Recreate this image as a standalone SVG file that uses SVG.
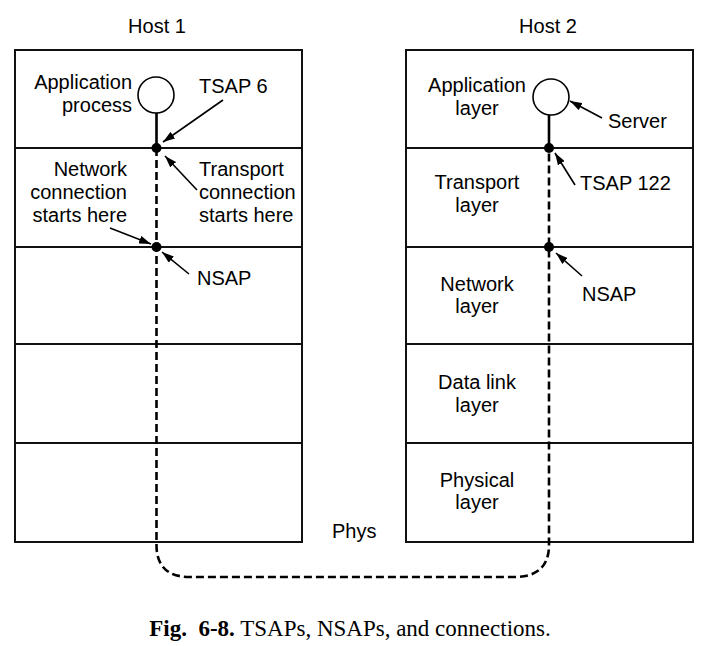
<svg xmlns="http://www.w3.org/2000/svg" width="716" height="646" viewBox="0 0 716 646">
<defs>
<style>
.t{font-family:"Liberation Sans",Arial,sans-serif;font-size:20px;fill:#000}
.box{fill:#fff;stroke:#111;stroke-width:2}
.sep{stroke:#111;stroke-width:2}
.arr{stroke:#000;stroke-width:1.6;fill:none;marker-end:url(#ah)}
.dash{stroke:#000;stroke-width:2.6;fill:none;stroke-dasharray:8 4}
.solid{stroke:#000;stroke-width:2.6}
.cap{font-family:"Liberation Serif","Times New Roman",serif;font-size:23px;fill:#000}
</style>
<marker id="ah" viewBox="0 0 12 8" refX="12" refY="4" markerWidth="12" markerHeight="8" markerUnits="userSpaceOnUse" orient="auto">
<path d="M0,0 L12,4 L0,8 z" fill="#000"/>
</marker>
</defs>
<rect width="716" height="646" fill="#fff"/>

<g id="host1">
<text class="t" x="157" y="33" text-anchor="middle">Host 1</text>
<rect class="box" x="15" y="50" width="287" height="492"/>
<line class="sep" x1="15" y1="148" x2="302" y2="148"/>
<line class="sep" x1="15" y1="247" x2="302" y2="247"/>
<line class="sep" x1="15" y1="344" x2="302" y2="344"/>
<line class="sep" x1="15" y1="443" x2="302" y2="443"/>
</g>

<g id="host2">
<text class="t" x="548" y="33" text-anchor="middle">Host 2</text>
<rect class="box" x="406" y="50" width="287" height="492"/>
<line class="sep" x1="406" y1="148" x2="693" y2="148"/>
<line class="sep" x1="406" y1="247" x2="693" y2="247"/>
<line class="sep" x1="406" y1="344" x2="693" y2="344"/>
<line class="sep" x1="406" y1="443" x2="693" y2="443"/>
<text class="t" x="477" y="92" text-anchor="middle">Application</text>
<text class="t" x="477" y="115" text-anchor="middle">layer</text>
<text class="t" x="477" y="189" text-anchor="middle">Transport</text>
<text class="t" x="477" y="212" text-anchor="middle">layer</text>
<text class="t" x="477" y="291" text-anchor="middle">Network</text>
<text class="t" x="477" y="313" text-anchor="middle">layer</text>
<text class="t" x="477" y="389" text-anchor="middle">Data link</text>
<text class="t" x="477" y="412" text-anchor="middle">layer</text>
<text class="t" x="477" y="487" text-anchor="middle">Physical</text>
<text class="t" x="477" y="509" text-anchor="middle">layer</text>
</g>

<g id="connectors">
<path class="dash" d="M156.5,148 V545 Q156.5,577 190,577 H514 Q549,577 549,545 V148"/>
<line class="solid" x1="156.5" y1="113" x2="156.5" y2="148"/>
<line class="solid" x1="549" y1="115" x2="549" y2="148"/>
<line class="arr" x1="223" y1="100" x2="163" y2="142"/>
<line class="arr" x1="197" y1="190" x2="165" y2="156"/>
<line class="arr" x1="110" y1="228" x2="151" y2="244"/>
<line class="arr" x1="189" y1="274" x2="162" y2="252"/>
<line class="arr" x1="602" y1="118" x2="570" y2="101"/>
<line class="arr" x1="575" y1="185" x2="555" y2="153"/>
<line class="arr" x1="582" y1="276" x2="556" y2="253"/>
</g>

<g id="app-process">
<circle cx="156" cy="95" r="18" fill="#fff" stroke="#000" stroke-width="1.6"/>
<text class="t" x="132" y="89" text-anchor="end">Application</text>
<text class="t" x="132" y="112" text-anchor="end">process</text>
</g>
<g id="server">
<circle cx="551" cy="97" r="18" fill="#fff" stroke="#000" stroke-width="1.6"/>
<text class="t" x="608" y="128">Server</text>
</g>
<g id="tsap6">
<circle cx="156.5" cy="148" r="5" fill="#000"/>
<text class="t" x="199" y="93">TSAP 6</text>
</g>
<g id="transport-start">
<text class="t" x="199" y="176">Transport</text>
<text class="t" x="199" y="199">connection</text>
<text class="t" x="199" y="222">starts here</text>
</g>
<g id="network-start">
<text class="t" x="127" y="176" text-anchor="end">Network</text>
<text class="t" x="127" y="199" text-anchor="end">connection</text>
<text class="t" x="127" y="222" text-anchor="end">starts here</text>
</g>
<g id="nsap1">
<circle cx="156.5" cy="247" r="5" fill="#000"/>
<text class="t" x="197" y="285">NSAP</text>
</g>
<g id="tsap122">
<circle cx="549" cy="148" r="5" fill="#000"/>
<text class="t" x="580" y="190">TSAP 122</text>
</g>
<g id="nsap2">
<circle cx="549" cy="247" r="5" fill="#000"/>
<text class="t" x="582" y="301">NSAP</text>
</g>
<g id="phys">
<text class="t" x="332" y="538">Phys</text>
</g>
<g id="caption">
<text class="cap" x="350" y="636" text-anchor="middle" xml:space="preserve"><tspan font-weight="bold">Fig.  6-8.</tspan> TSAPs, NSAPs, and connections.</text>
</g>
</svg>
